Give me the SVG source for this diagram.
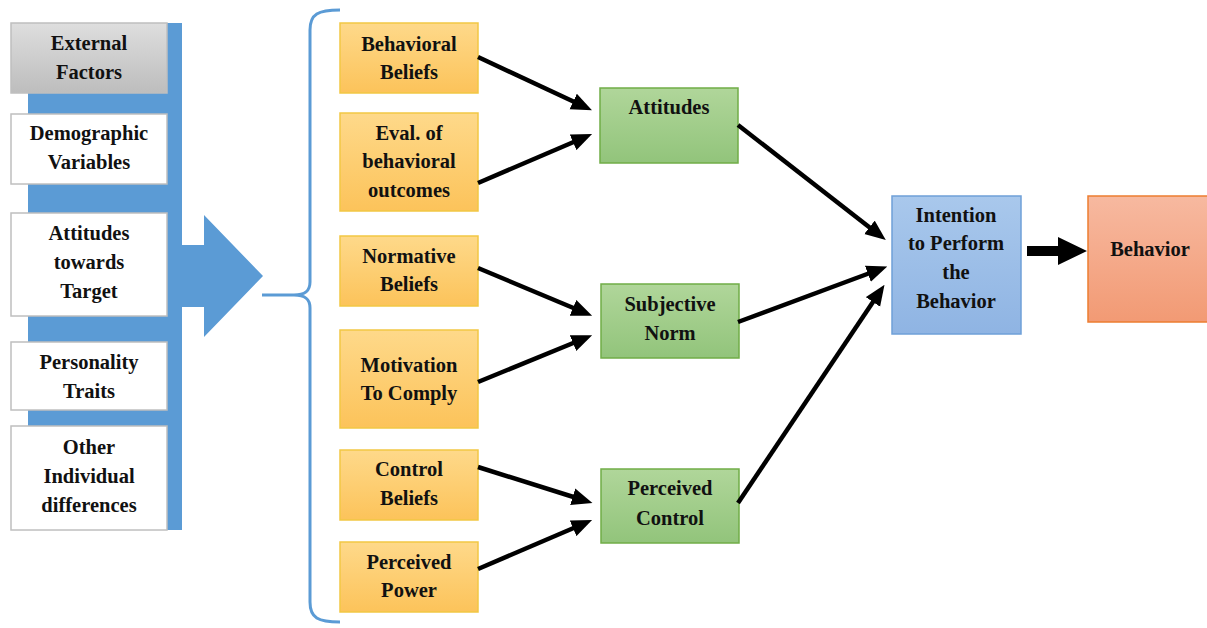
<svg xmlns="http://www.w3.org/2000/svg" width="1207" height="628" viewBox="0 0 1207 628">
<style>
text{font-family:"Liberation Serif","Times New Roman",serif;font-weight:bold;font-size:20.5px;fill:#111;text-anchor:middle}
.wb{fill:#fff;stroke:#bfbfbf;stroke-width:1.5}
.or{fill:url(#gO);stroke:#f2c744;stroke-width:1.5}
.gr{fill:url(#gG);stroke:#70ad47;stroke-width:1.5}
.conn line{stroke:#000;stroke-width:4.5;marker-end:url(#ah)}
</style>
<defs>
<linearGradient id="gO" x1="0" y1="0" x2="0" y2="1"><stop offset="0" stop-color="#fed98a"/><stop offset="1" stop-color="#fcc35a"/></linearGradient>
<linearGradient id="gG" x1="0" y1="0" x2="0" y2="1"><stop offset="0" stop-color="#b0d69a"/><stop offset="1" stop-color="#92c47b"/></linearGradient>
<linearGradient id="gB" x1="0" y1="0" x2="0" y2="1"><stop offset="0" stop-color="#a9c8ec"/><stop offset="1" stop-color="#8fb4e3"/></linearGradient>
<linearGradient id="gR" x1="0" y1="0" x2="0" y2="1"><stop offset="0" stop-color="#f7b9a0"/><stop offset="1" stop-color="#f29a74"/></linearGradient>
<linearGradient id="gY" x1="0" y1="0" x2="0" y2="1"><stop offset="0" stop-color="#dedede"/><stop offset="1" stop-color="#bdbdbd"/></linearGradient>
<marker id="ah" markerWidth="4.6" markerHeight="4" refX="2.4" refY="2" orient="auto" markerUnits="strokeWidth" viewBox="0 0 4.6 4"><path d="M0,0.1 L4.6,2 L0,3.9 z" fill="#000"/></marker>
</defs>

<g id="external-bar">
<rect x="28" y="23" width="154" height="507" fill="#5b9bd5"/>
<path d="M181,245 L204,245 L204,215 L263,276 L204,337 L204,307 L181,307 z" fill="#5b9bd5"/>
</g>

<g id="brace">
<path d="M340,10 C318,10 310,14 310,30 L310,282 C310,291 305,295 294,295 L262,295 M294,295 C305,295 310,299 310,308 L310,602 C310,618 318,622 340,622" fill="none" stroke="#5b9bd5" stroke-width="3"/>
</g>

<g id="external-factors">
<rect x="11" y="23" width="156" height="70" fill="url(#gY)" stroke="#bfbfbf" stroke-width="1.5"/>
<text x="89" y="50">External</text><text x="89" y="79">Factors</text>
</g>
<g id="demographic"><rect class="wb" x="11" y="114" width="156" height="70"/>
<text x="89" y="140">Demographic</text><text x="89" y="169">Variables</text></g>
<g id="attitudes-target"><rect class="wb" x="11" y="213" width="156" height="103"/>
<text x="89" y="240">Attitudes</text><text x="89" y="269">towards</text><text x="89" y="298">Target</text></g>
<g id="personality"><rect class="wb" x="11" y="342" width="156" height="68"/>
<text x="89" y="369">Personality</text><text x="89" y="398">Traits</text></g>
<g id="other"><rect class="wb" x="11" y="426" width="156" height="104"/>
<text x="89" y="454">Other</text><text x="89" y="483">Individual</text><text x="89" y="512">differences</text></g>

<g id="behavioral-beliefs"><rect class="or" x="340" y="23" width="138" height="70"/>
<text x="409" y="51">Behavioral</text><text x="409" y="79">Beliefs</text></g>
<g id="eval-outcomes"><rect class="or" x="340" y="113" width="138" height="98"/>
<text x="409" y="140">Eval. of</text><text x="409" y="168">behavioral</text><text x="409" y="197">outcomes</text></g>
<g id="normative-beliefs"><rect class="or" x="340" y="236" width="138" height="70"/>
<text x="409" y="263">Normative</text><text x="409" y="291">Beliefs</text></g>
<g id="motivation"><rect class="or" x="340" y="330" width="138" height="98"/>
<text x="409" y="372">Motivation</text><text x="409" y="400">To Comply</text></g>
<g id="control-beliefs"><rect class="or" x="340" y="450" width="138" height="70"/>
<text x="409" y="476">Control</text><text x="409" y="505">Beliefs</text></g>
<g id="perceived-power"><rect class="or" x="340" y="542" width="138" height="70"/>
<text x="409" y="569">Perceived</text><text x="409" y="597">Power</text></g>

<g id="attitudes"><rect class="gr" x="600" y="88" width="138" height="75"/>
<text x="669" y="114">Attitudes</text></g>
<g id="subjective-norm"><rect class="gr" x="601" y="284" width="138" height="74"/>
<text x="670" y="311">Subjective</text><text x="670" y="340">Norm</text></g>
<g id="perceived-control"><rect class="gr" x="601" y="469" width="138" height="74"/>
<text x="670" y="495">Perceived</text><text x="670" y="525">Control</text></g>

<g id="intention"><rect x="892" y="196" width="129" height="138" fill="url(#gB)" stroke="#6fa0d8" stroke-width="1.5"/>
<text x="956" y="222">Intention</text><text x="956" y="250">to Perform</text><text x="956" y="279">the</text><text x="956" y="308">Behavior</text></g>
<g id="behavior"><rect x="1088" y="196" width="125" height="126" fill="url(#gR)" stroke="#ed7d31" stroke-width="1.5"/>
<text x="1150" y="256">Behavior</text></g>

<g id="connectors" class="conn">
<line x1="478" y1="57" x2="583" y2="106"/>
<line x1="478" y1="183" x2="583" y2="138"/>
<line x1="478" y1="268" x2="583" y2="312"/>
<line x1="478" y1="382" x2="583" y2="339"/>
<line x1="478" y1="467" x2="583" y2="500"/>
<line x1="478" y1="569" x2="583" y2="524"/>
<line x1="738" y1="125" x2="878" y2="234"/>
<line x1="738" y1="322" x2="878" y2="270"/>
<line x1="738" y1="503" x2="879" y2="293"/>
<path d="M1027,246 L1058,246 L1058,237 L1087,251 L1058,265 L1058,256 L1027,256 z" fill="#000"/>
</g>
</svg>
